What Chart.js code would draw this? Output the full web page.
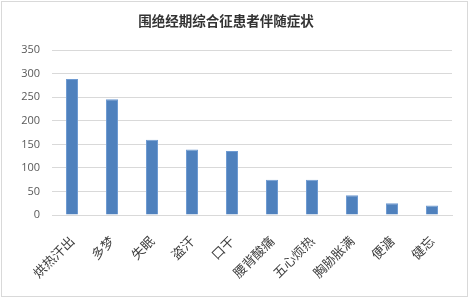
<!DOCTYPE html>
<html>
<head>
<meta charset="utf-8">
<script src="https://cdn.jsdelivr.net/npm/chart.js@4/dist/chart.umd.min.js"></script>
<style>
  body { margin: 0; background: #fff; }
  #holder { width: 472px; height: 300px; }
</style>
</head>
<body>
<div id="holder"><canvas id="grafico" width="472" height="300"></canvas></div>
<script>
/********************** datos ****************************************************/

var categorias = ["烘热汗出", "多梦", "失眠", "盗汗", "口干", "腰背酸痛", "五心烦热", "胸胁胀满", "便溏", "健忘"];
var valores = [289, 246, 160, 139, 136, 75, 75, 42, 25, 20];
var ticksY = [0, 50, 100, 150, 200, 250, 300, 350];
var titulo = "围绝经期综合征患者伴随症状";

/********************** marco exterior (borde gris del gráfico) ******************/

var marco = {
  id: 'marco',
  afterDraw: function(chart) {
    var ctx = chart.ctx;
    ctx.save();
    ctx.strokeStyle = '#d9d9d9';
    ctx.lineWidth = 1;
    ctx.strokeRect(1.5, 1.5, 466, 295);
    ctx.restore();
  }
};

/********************** configuración ********************************************/

var config = {
  type: 'bar',
  data: {
    labels: categorias,
    datasets: [{
      data: valores,
      backgroundColor: '#4f81bd',
      borderColor: '#6f9bd2',
      borderWidth: 1,
      barPercentage: 0.3,
      categoryPercentage: 1
    }]
  },
  options: {
    responsive: false,
    animation: false,
    layout: { padding: { left: 0, right: 20, top: 0, bottom: 0 } },
    plugins: {
      legend: { display: false },
      tooltip: { enabled: false },
      title: {
        display: true,
        text: titulo,
        color: '#333333',
        font: { family: '"Noto Sans CJK SC"', size: 13.5, weight: 'bold' },
        padding: { top: 13, bottom: 21 }
      }
    },
    scales: {
      x: {
        grid: { display: false },
        border: { color: '#d9d9d9' },
        ticks: {
          color: '#404040',
          font: { family: '"Noto Sans CJK SC"', size: 13 },
          minRotation: 45,
          maxRotation: 45,
          padding: 10
        },
        afterFit: function(scale) {
          scale.height = 85;
          scale.paddingLeft = 0;
          scale.paddingRight = 0;
        }
      },
      y: {
        min: 0,
        max: 350,
        afterBuildTicks: function(scale) {
          scale.ticks = ticksY.map(function(v) { return { value: v }; });
        },
        grid: { color: '#d9d9d9', drawTicks: false },
        border: { display: false },
        ticks: {
          color: '#595959',
          font: { family: '"Open Sans"', size: 11 },
          padding: 12
        },
        afterFit: function(scale) {
          scale.width = 52;
          scale.paddingTop = 0;
          scale.paddingBottom = 0;
        }
      }
    }
  },
  plugins: [marco]
};

var chart = new Chart(document.getElementById("grafico").getContext("2d"), config);
</script>
</body>
</html>
